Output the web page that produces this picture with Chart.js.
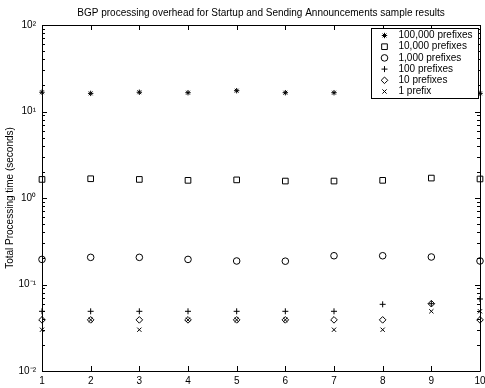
<!DOCTYPE html>
<html>
<head>
<meta charset="utf-8">
<script src="https://cdn.jsdelivr.net/npm/chart.js@4.4.0/dist/chart.umd.min.js"></script>
<style>
  html, body { margin: 0; padding: 0; background: #fff; }
  #wrap { width: 485px; height: 388px; }
</style>
</head>
<body>
<div id="wrap"><canvas id="myChart"></canvas></div>
<script>
// sample runs 1..10
var runs = [1, 2, 3, 4, 5, 6, 7, 8, 9, 10];

// processing time in seconds (8 and 9 of the largest set are hidden by the legend)
var t100000 = [16.7, 16.2, 16.7, 16.5, 17.4, 16.5, 16.5, null, null, 16.2];
var t10000  = [1.64, 1.67, 1.64, 1.60, 1.62, 1.57, 1.57, 1.60, 1.70, 1.66];
var t1000   = [0.195, 0.206, 0.206, 0.195, 0.187, 0.186, 0.215, 0.215, 0.208, 0.187];
var t100    = [0.049, 0.049, 0.049, 0.049, 0.049, 0.049, 0.049, 0.059, 0.060, 0.068];
var t10     = [0.039, 0.039, 0.039, 0.039, 0.039, 0.039, 0.039, 0.039, 0.060, 0.039];
var t1      = [0.030, 0.039, 0.030, 0.039, 0.039, 0.039, 0.030, 0.030, 0.049, 0.049];

var yTickLabels = { '2': '10²', '1': '10¹', '0': '10⁰', '-1': '10⁻¹', '-2': '10⁻²' };
var chartTitle = 'BGP processing overhead for Startup and Sending Announcements sample results';

Chart.defaults.font.family = "'Liberation Sans', Arial, Helvetica, sans-serif";
Chart.defaults.color = '#000';

function pts(values) {
    return runs.map(function (x, i) { return { x: x, y: values[i] }; });
}

function series(label, values, style, r) {
    return {
        label: label,
        data: pts(values),
        pointStyle: style,
        pointRadius: r,
        pointHoverRadius: r,
        pointBorderWidth: 1,
        borderColor: '#000',
        backgroundColor: 'rgba(0,0,0,0)',
        showLine: false,
        clip: false
    };
}

// box round the axes plus inward ticks, matlab style
var framePlugin = {
    id: 'frame',
    afterDatasetsDraw: function (chart) {
        var ctx = chart.ctx;
        var a = chart.chartArea;
        var xs = chart.scales.x, ys = chart.scales.y;
        ctx.save();
        ctx.strokeStyle = '#000';
        ctx.lineWidth = 1;
        ctx.beginPath();
        ctx.rect(Math.round(a.left) + 0.5, Math.round(a.top) + 0.5,
                 Math.round(a.right - a.left), Math.round(a.bottom - a.top));
        ctx.stroke();
        ctx.beginPath();
        runs.forEach(function (v) {
            var px = Math.round(xs.getPixelForValue(v)) + 0.5;
            ctx.moveTo(px, a.bottom); ctx.lineTo(px, a.bottom - 5);
            ctx.moveTo(px, a.top); ctx.lineTo(px, a.top + 5);
        });
        for (var e = -2; e <= 2; e++) {
            for (var m = 1; m <= 9; m++) {
                var v = m * Math.pow(10, e);
                if (v > 100.0001) break;
                var py = Math.round(ys.getPixelForValue(v)) + 0.5;
                var len = m === 1 ? 5 : 3;
                ctx.moveTo(a.left, py); ctx.lineTo(a.left + len, py);
                ctx.moveTo(a.right, py); ctx.lineTo(a.right - len, py);
            }
        }
        ctx.stroke();
        ctx.restore();
    }
};

// title centred over the axes, legend box drawn on top of the data
var legendPlugin = {
    id: 'boxLegend',
    afterDraw: function (chart) {
        var ctx = chart.ctx;
        var a = chart.chartArea;
        ctx.save();
        ctx.fillStyle = '#000';
        ctx.font = "10px 'Liberation Sans', Arial, sans-serif";
        ctx.textAlign = 'center';
        ctx.textBaseline = 'middle';
        ctx.fillText(chartTitle, (a.left + a.right) / 2, 13);

        var left = Math.round(a.right) - 108.5, top = Math.round(a.top) + 3.5;
        ctx.fillStyle = '#fff';
        ctx.strokeStyle = '#000';
        ctx.lineWidth = 1;
        ctx.fillRect(left, top, 107, 70);
        ctx.strokeRect(left, top, 107, 70);
        ctx.textAlign = 'left';
        chart.data.datasets.forEach(function (ds, i) {
            var y = top + 7 + i * 11.2;
            ctx.fillStyle = 'rgba(0,0,0,0)';
            ctx.strokeStyle = '#000';
            Chart.helpers.drawPoint(ctx, {
                pointStyle: ds.pointStyle, radius: ds.pointRadius, borderWidth: 1, rotation: 0
            }, left + 13, y);
            ctx.fillStyle = '#000';
            ctx.fillText(ds.label, left + 27, y);
        });
        ctx.restore();
    }
};

var data = {
    datasets: [
        series('100,000 prefixes', t100000, 'star', 2.7),
        series('10,000 prefixes', t10000, 'rect', 4),
        series('1,000 prefixes', t1000, 'circle', 3.3),
        series('100 prefixes', t100, 'cross', 3),
        series('10 prefixes', t10, 'rectRot', 3.3),
        series('1 prefix', t1, 'crossRot', 3)
    ]
};

var config = {
    type: 'scatter',
    data: data,
    options: {
        responsive: true,
        maintainAspectRatio: false,
        animation: false,
        events: [],
        layout: { padding: { left: 0, right: 4, top: 25, bottom: 0 } },
        plugins: {
            legend: { display: false },
            tooltip: { enabled: false },
            title: { display: false }
        },
        scales: {
            x: {
                type: 'linear',
                min: 1,
                max: 10,
                grid: { display: false, drawTicks: false },
                border: { display: false },
                ticks: { stepSize: 1, font: { size: 10 }, padding: 4 },
                afterFit: function (s) {
                    s.height = 17;
                    s.paddingLeft = 0;
                    s.paddingRight = 0;
                }
            },
            y: {
                type: 'logarithmic',
                min: 0.01,
                max: 100,
                grid: { display: false, drawTicks: false },
                border: { display: false },
                ticks: {
                    font: { size: 10 },
                    padding: 6,
                    autoSkip: false,
                    callback: function (v) {
                        var e = Math.log10(v);
                        var r = Math.round(e);
                        if (Math.abs(e - r) < 1e-6) return yTickLabels[String(r)];
                        return '';
                    }
                },
                title: {
                    display: true,
                    text: 'Total Processing time (seconds)',
                    font: { size: 10 },
                    padding: { top: 4, bottom: 0 }
                },
                afterFit: function (s) {
                    s.width = 42;
                    s.paddingTop = 0;
                    s.paddingBottom = 0;
                }
            }
        }
    },
    plugins: [framePlugin, legendPlugin]
};

var myChart = new Chart(
    document.getElementById('myChart').getContext('2d'),
    config
);
</script>
</body>
</html>
